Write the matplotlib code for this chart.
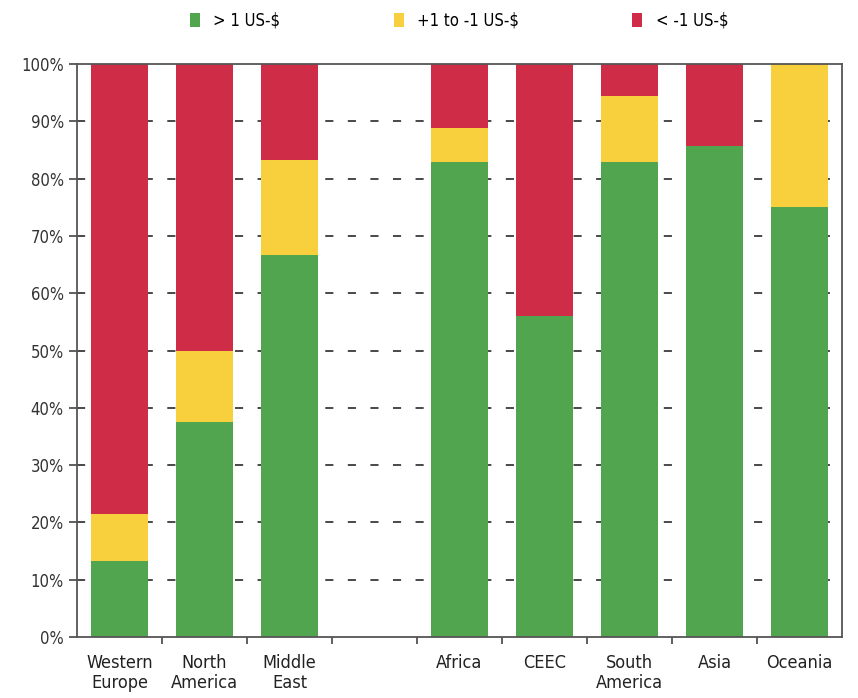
import numpy as np
import matplotlib.pyplot as plt
from matplotlib.ticker import PercentFormatter

# data (shares in %)
regions = ["Western\nEurope", "North\nAmerica", "Middle\nEast", "",
           "Africa", "CEEC", "South\nAmerica", "Asia", "Oceania"]
above_1 = [13.3, 37.5, 66.7, 0, 83.0, 56.0, 83.0, 85.7, 75.0]
around_0 = [8.2, 12.5, 16.6, 0, 5.8, 0.0, 11.4, 0.0, 25.0]
below_1 = [78.5, 50.0, 16.7, 0, 11.2, 44.0, 5.6, 14.3, 0.0]
labels = ["> 1 US-$", "+1 to -1 US-$", "< -1 US-$"]

green = "#52a54f"
yellow = "#f8cf3c"
red = "#cf2c47"

plt.rcParams['font.family'] = ['DejaVu Sans']
plt.rcParams['font.stretch'] = 'condensed'

fig = plt.figure(figsize=(8.58, 6.98), dpi=100)
ax = fig.add_axes([0.0897, 0.0874, 0.8916, 0.8206])

x = np.arange(len(regions))
mask = np.array([r != "" for r in regions])
a = np.array(above_1)
b = np.array(around_0)
c = np.array(below_1)

w = 0.67
ax.bar(x[mask], a[mask], w, color=green, label=labels[0], zorder=2)
ax.bar(x[mask], b[mask], w, bottom=a[mask], color=yellow, label=labels[1], zorder=2)
ax.bar(x[mask], c[mask], w, bottom=(a + b)[mask], color=red, label=labels[2], zorder=2)

ax.set_xlim(-0.5, len(regions) - 0.5)
ax.set_ylim(0, 100)
ax.set_yticks(np.arange(0, 101, 10))
ax.yaxis.set_major_formatter(PercentFormatter(decimals=0))
for y in range(10, 100, 10):
    ax.axhline(y, color="#3a3a3a", lw=1.3, ls=(0, (4.5, 8)), zorder=1)

# x ticks at slot boundaries, labels centred under bars
ax.set_xticks(np.arange(0.5, len(regions) - 1, 1))
ax.set_xticklabels([])
ax.set_xticks(x, labels=regions, minor=True)
ax.tick_params(axis="x", which="minor", length=0, labelsize=13, pad=12, colors="#222222")
ax.tick_params(axis="x", which="major", length=5, width=1.2, color="#444444")
ax.tick_params(axis="y", length=6, width=1.2, labelsize=12, colors="#444444", labelcolor="#333333")

for s in ax.spines.values():
    s.set_color("#555555")
    s.set_linewidth(1.3)

fig.legend(loc="upper center", bbox_to_anchor=(0.535, 1.005), ncol=3, frameon=False,
           fontsize=12, handlelength=0.6, handleheight=0.9, handletextpad=0.8,
           columnspacing=6.8)

fig.savefig("out.png", dpi=100)
